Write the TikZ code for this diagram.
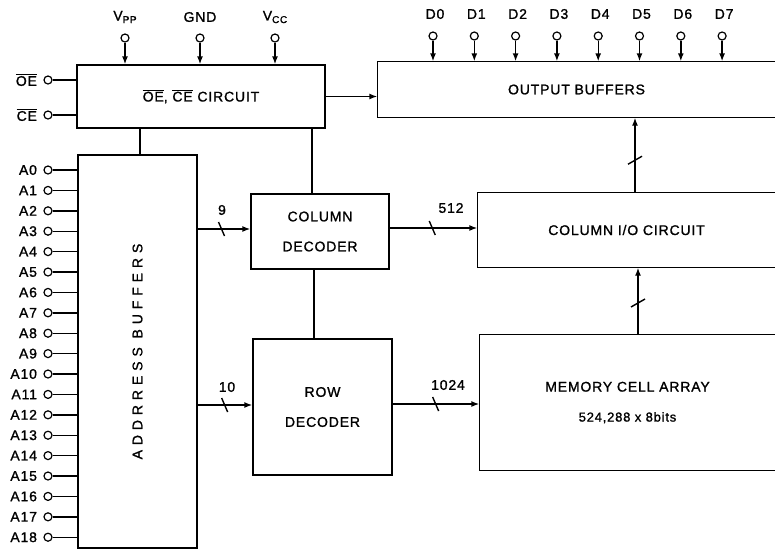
\documentclass[tikz,border=0pt]{standalone}
\usepackage{fontspec}
\setmainfont{Liberation Sans}[LetterSpace=6,FakeBold=1.2]
\usetikzlibrary{arrows.meta}
\newcommand\ovl[1]{$\overline{\mbox{#1}}$}
\newcommand\subsc[1]{\raisebox{-0.35ex}{\fontsize{10}{10}\selectfont #1}}
\begin{document}
\begin{tikzpicture}[x=1pt,y=-1pt,line width=1.4pt,
  font=\fontsize{14}{16}\selectfont,
  box/.style={draw,inner sep=0pt,align=center},
  obox/.style={inner sep=0pt,align=center},
  pinc/.style={circle,draw,line width=1.2pt,minimum size=8pt,inner sep=0pt},
  arr/.style={-{Latex[length=8pt,width=6pt]}},
  two/.style={font=\fontsize{14}{30}\selectfont}]
\useasboundingbox (0,0) rectangle (775,550);
% blocks
\node[box,minimum width=248,minimum height=63] (oe) at (201,96.5) {\ovl{OE}, \ovl{CE} CIRCUIT};
\node[obox,minimum width=397,minimum height=55] (ob) at (576.5,89.5) {OUTPUT BUFFERS};
\draw (ob.north east) -- (ob.north west) -- (ob.south west) -- (ob.south east);
\node[box,minimum width=119,minimum height=393] (ab) at (137.5,351.5)
  {\rotatebox{90}{\addfontfeature{LetterSpace=35}ADDRRESS BUFFERS}};
\node[box,two,minimum width=138,minimum height=75] (cd) at (320,231.5) {COLUMN\\DECODER};
\node[obox,minimum width=297,minimum height=74] (cio) at (626.5,230) {COLUMN I/O CIRCUIT};
\draw (cio.north east) -- (cio.north west) -- (cio.south west) -- (cio.south east);
\node[box,two,minimum width=139,minimum height=136] (rd) at (322.5,407) {ROW\\DECODER};
\node[obox,two,minimum width=295,minimum height=135] (mem) at (627.5,402.5)
  {MEMORY CELL ARRAY\\{\fontsize{13}{30}\selectfont 524,288 x 8bits}};
\draw (mem.north east) -- (mem.north west) -- (mem.south west) -- (mem.south east);
% power pins
\foreach \n/\x/\t in {vpp/125/{V\subsc{PP}},gnd/200/GND,vcc/275/{V\subsc{CC}}}{
  \node[pinc] (p\n) at (\x,38) {};
  \node (l\n) at (\x,17) {\t};
  \draw[arr] (p\n) -- (p\n |- oe.north);
}
% data pins
\foreach \i in {0,...,7}{
  \node[pinc] (pd\i) at ({433+41.3*\i},36) {};
  \node (ld\i) at ({435+41.3*\i},14) {D\i};
  \draw[arr] (pd\i) -- (pd\i |- ob.north);
}
% OE / CE pins
\node[pinc] (poe) at (48,80) {};
\node[anchor=east] (loe) at (41,80) {\ovl{OE}};
\draw (poe) -- (poe -| oe.west);
\node[pinc] (pce) at (48,115) {};
\node[anchor=east] (lce) at (41,115) {\ovl{CE}};
\draw (pce) -- (pce -| oe.west);
% address pins
\foreach \i in {0,...,18}{
  \node[pinc] (pa\i) at (48,{170+20.4*\i}) {};
  \node[anchor=east] (la\i) at (41,{170+20.4*\i}) {A\i};
  \draw (pa\i) -- (pa\i -| ab.west);
}
% connections
\draw[arr] (oe.east) -- (oe.east -| ob.west);
\coordinate (t1) at (140,0);
\draw (t1 |- oe.south) -- (t1 |- ab.north);
\coordinate (t2) at (312,0);
\draw (t2 |- oe.south) -- (t2 |- cd.north);
\coordinate (t3) at (314,0);
\draw (t3 |- cd.south) -- (t3 |- rd.north);
% buses
\coordinate (b9) at (197,229);
\draw[arr] (b9) -- coordinate[pos=0.46] (s9) (b9 -| cd.west);
\draw (s9) +(-3,-7) -- +(3,7);
\node (n9) at (222,210) {9};
\coordinate (b10) at (197,405);
\draw[arr] (b10) -- coordinate[pos=0.5] (s10) (b10 -| rd.west);
\draw (s10) +(-3,-7) -- +(3,7);
\node (n10) at (227,387) {10};
\coordinate (b512) at (389,228);
\draw[arr] (b512) -- coordinate[pos=0.49] (s512) (b512 -| cio.west);
\draw (s512) +(-3,-7) -- +(3,7);
\node (n512) at (451,208) {512};
\coordinate (b1024) at (392,404);
\draw[arr] (b1024) -- coordinate[pos=0.5] (s1024) (b1024 -| mem.west);
\draw (s1024) +(-3,-7) -- +(3,7);
\node (n1024) at (448,385) {1024};
\coordinate (u1) at (635,0);
\draw[arr] (u1 |- cio.north) -- coordinate[pos=0.43] (su1) (u1 |- ob.south);
\draw (su1) +(-7,4) -- +(7,-4);
\coordinate (u2) at (638,0);
\draw[arr] (u2 |- mem.north) -- coordinate[pos=0.47] (su2) (u2 |- cio.south);
\draw (su2) +(-7,4) -- +(7,-4);
\end{tikzpicture}
\end{document}
